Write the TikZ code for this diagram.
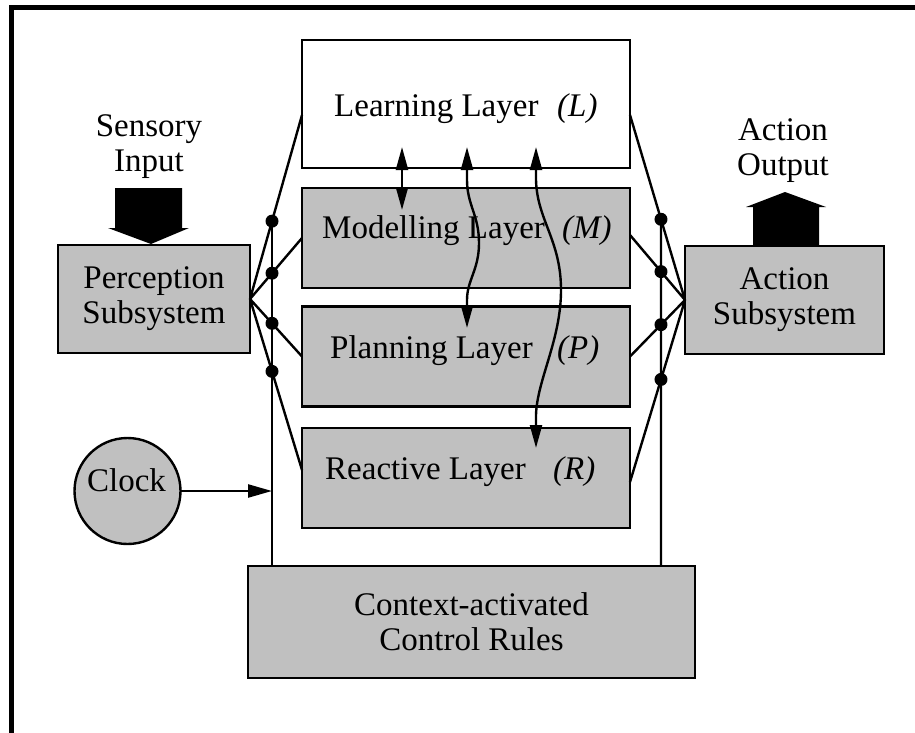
\documentclass[tikz,border=0pt]{standalone}
\usepackage{fontspec}
\setmainfont{Liberation Serif}
\usetikzlibrary{arrows.meta,calc}
\definecolor{boxgray}{RGB}{192,192,192}
\begin{document}
\begin{tikzpicture}[x=1pt,y=-1pt,
  box/.style={draw=black, line width=2.4pt, fill=boxgray, inner sep=0pt, outer sep=0pt, align=center, font=\fontsize{33}{35}\selectfont},
  txt/.style={inner sep=0pt, font=\fontsize{33}{35}\selectfont},
  conn/.style={line width=2.4pt},
  tipend/.style={-{Triangle[length=24pt,width=13pt]}},
  dtip/.style={{Triangle[length=23pt,width=12pt]}-{Triangle[length=23pt,width=12pt]}},
  dotc/.style={fill=black}
]
\useasboundingbox (0,0) rectangle (915,733);
\fill[white] (0,0) rectangle (915,733);
\draw[line width=5pt] (915,8) -- (11.5,8) -- (11.5,733);

% layer boxes
\node[box, fill=white, minimum width=328pt, minimum height=128pt] (learn) at (466,104) {};
\node[box, minimum width=328pt, minimum height=100pt] (model) at (466,238) {};
\node[box, minimum width=328pt, minimum height=100pt] (plan) at (466,356.5) {};
\node[box, minimum width=328pt, minimum height=100pt] (react) at (466,478) {};

\node[txt, anchor=base west] (learnT) at (334,117) {Learning Layer};
\node[txt, anchor=base west] (learnI) at (557,117) {\itshape (L)};
\node[txt, anchor=base west] (modelT) at (322,238) {Modelling Layer};
\node[txt, anchor=base west] (modelI) at (562,238) {\itshape (M)};
\node[txt, anchor=base west] (planT) at (330,358) {Planning Layer};
\node[txt, anchor=base west] (planI) at (557,358) {\itshape (P)};
\node[txt, anchor=base west] (reactT) at (325,479) {Reactive Layer};
\node[txt, anchor=base west] (reactI) at (553,479) {\itshape (R)};

% side boxes
\node[box, minimum width=192pt, minimum height=108pt] (perc) at (154,299) {Perception\\Subsystem};
\node[box, minimum width=199pt, minimum height=108pt] (act) at (784.5,300) {Action\\Subsystem};
\node[box, minimum width=447pt, minimum height=112pt] (ctx) at (471.5,622) {Context-activated\\Control Rules};
\node[box, circle, minimum size=106pt] (clock) at (127.5,491) {};
\node[txt, anchor=base] (clockT) at (126.5,491) {Clock};

% sensory input / action output
\node[txt, align=center] (sens) at (149,147) {Sensory\\Input};
\node[txt, align=center] (aout) at (783,151) {Action\\Output};
\fill (115,188) -- (182,188) -- (182,228) -- (189,228) -- (151,244) -- (108,228) -- (115,228) -- cycle;
\fill (753,246) -- (753,207) -- (746,207) -- (785,192) -- (826,207) -- (819,207) -- (819,246) -- cycle;

% fan connectors
\coordinate (pe) at (perc.east);
\coordinate (aw) at (act.west);
\coordinate (pL) at ([yshift=-11pt]learn.west);
\coordinate (pM) at (model.west);
\coordinate (pP) at (plan.west);
\coordinate (pR) at ([yshift=8pt]react.west);
\coordinate (aL) at ([yshift=-11pt]learn.east);
\coordinate (aM) at ([yshift=3pt]model.east);
\coordinate (aP) at (plan.east);
\coordinate (aR) at ([yshift=-4pt]react.east);
\coordinate (lbTop) at (272,0);
\coordinate (lbBot) at (272,566);
\coordinate (rbTop) at (661,0);
\coordinate (rbBot) at (661,566);

\draw[conn] (pe) -- (pL) (pe) -- (pM) (pe) -- (pP) (pe) -- (pR);
\draw[conn] (aw) -- (aL) (aw) -- (aM) (aw) -- (aP) (aw) -- (aR);

\coordinate (l1) at (intersection of pe--pL and lbTop--lbBot);
\coordinate (l2) at (intersection of pe--pM and lbTop--lbBot);
\coordinate (l3) at (intersection of pe--pP and lbTop--lbBot);
\coordinate (l4) at (intersection of pe--pR and lbTop--lbBot);
\coordinate (r1) at (intersection of aw--aL and rbTop--rbBot);
\coordinate (r2) at (intersection of aw--aM and rbTop--rbBot);
\coordinate (r3) at (intersection of aw--aP and rbTop--rbBot);
\coordinate (r4) at (intersection of aw--aR and rbTop--rbBot);

\draw[conn] (l1) -- (lbBot);
\draw[conn] (r1) -- (rbBot);
\foreach \d in {l1,l2,l3,l4,r1,r2,r3,r4} \fill[dotc] (\d) circle[radius=6.5pt];

% clock arrow
\draw[conn, tipend] (clock.east) -- (clock.east -| lbBot);

% inter-layer arrows
\coordinate (m1a) at (402,147);
\coordinate (m1b) at (402,210);
\draw[conn, dtip] (m1a) -- (m1b);
\coordinate (m2a) at (467,147);
\coordinate (m2b) at (467,328);
\draw[conn, dtip] (m2a) -- (467,180) .. controls (467,205) and (479,215) .. (479,243) .. controls (479,270) and (467,280) .. (467,300) -- (m2b);
\coordinate (m3a) at (536,147);
\coordinate (m3b) at (536,448);
\draw[conn, dtip] (m3a) -- (536,180) .. controls (537,220) and (561,240) .. (561,290) .. controls (561,340) and (537,380) .. (536,415) -- (m3b);
\end{tikzpicture}
\end{document}
